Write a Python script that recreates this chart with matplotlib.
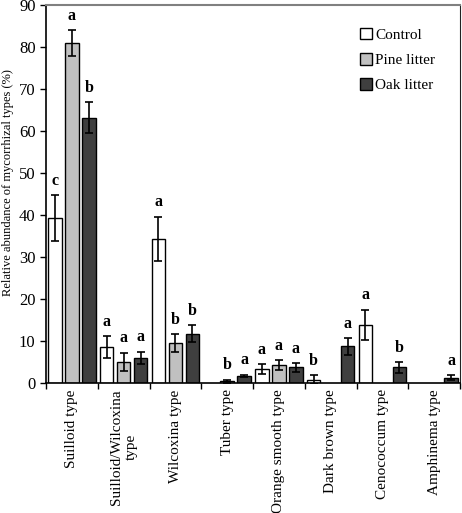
import numpy as np
import matplotlib
matplotlib.use("Agg")
import matplotlib.pyplot as plt

categories = ["Suilloid type", "Suilloid/Wilcoxina\ntype", "Wilcoxina type", "Tuber type",
              "Orange smooth type", "Dark brown type", "Cenococcum type", "Amphinema type"]
series = ["Control", "Pine litter", "Oak litter"]
control = [39.3, 8.5, 34.3, np.nan, 3.3, 0.8, 13.9, np.nan]
control_err = [5.5, 2.6, 5.3, np.nan, 1.2, 1.0, 3.6, np.nan]
pine = [81.0, 5.0, 9.5, 0.4, 4.3, np.nan, np.nan, np.nan]
pine_err = [3.0, 2.2, 2.2, 0.4, 1.2, np.nan, np.nan, np.nan]
oak = [63.2, 6.0, 11.7, 1.7, 3.7, 8.7, 3.7, 1.3]
oak_err = [3.7, 1.5, 2.0, 0.3, 1.0, 2.0, 1.2, 0.6]
control_letters = ["c", "a", "a", "", "a", "b", "a", ""]
pine_letters = ["a", "a", "b", "b", "a", "", "", ""]
oak_letters = ["b", "a", "b", "a", "a", "a", "b", "a"]

values = [control, pine, oak]
errors = [control_err, pine_err, oak_err]
letters = [control_letters, pine_letters, oak_letters]
colors = ["white", "#c0c0c0", "#3f3f3f"]

plt.rcParams['font.family'] = ['Liberation Serif', 'DejaVu Serif']
fig = plt.figure(figsize=(4.62, 5.13), dpi=100)
ax = fig.add_axes([0.0996, 0.2534, 0.8961, 0.7366])

x = np.arange(len(categories))
width = 0.26
offsets = [-0.33, 0.0, 0.33]
for vals, errs, lets, col, off, name in zip(values, errors, letters, colors, offsets, series):
    v = np.array(vals, dtype=float)
    e = np.array(errs, dtype=float)
    ax.bar(x + off, v, width, color=col, edgecolor="black", linewidth=1.0, label=name, zorder=2)
    ax.errorbar(x + off, v, yerr=e, fmt="none", ecolor="black", elinewidth=1.2,
                capsize=3, capthick=1.2, zorder=3)
    for xi, vi, ei, li in zip(x + off, v, e, lets):
        if li and not np.isnan(vi):
            ax.text(xi, vi + ei + 1.5, li, ha="center", va="bottom", fontsize=11.5,
                    fontweight="bold")

ax.set_xlim(-0.5, len(categories) - 0.5)
ax.set_ylim(0, 90)
ax.set_yticks(np.arange(0, 91, 10))
ax.tick_params(axis="y", labelsize=12, direction="out", length=4, width=1)
ax.set_xticks(np.arange(-0.5, len(categories), 1.0))
ax.set_xticklabels([])
ax.tick_params(axis="x", direction="out", length=4, width=1)
for xi, cat in zip(x, categories):
    ax.text(xi, -1.5, cat, rotation=90, ha="center", va="top", fontsize=11,
            multialignment="center")

ax.set_ylabel("Relative abundance of mycorrhizal types (%)", fontsize=9)
ax.yaxis.set_label_coords(-0.077, 0.53)
ax.spines["top"].set_color("#808080")
ax.spines["top"].set_linewidth(1.5)
ax.spines["right"].set_color("#222222")
ax.spines["left"].set_linewidth(1.2)
ax.spines["bottom"].set_linewidth(1.2)

leg = ax.legend(loc="upper left", bbox_to_anchor=(0.758, 0.94), frameon=False, fontsize=11,
                handlelength=0.8, handleheight=0.8, handletextpad=0.2, labelspacing=0.72,
                borderaxespad=0.0, borderpad=0.0)

fig.savefig("out.png", dpi=100)
